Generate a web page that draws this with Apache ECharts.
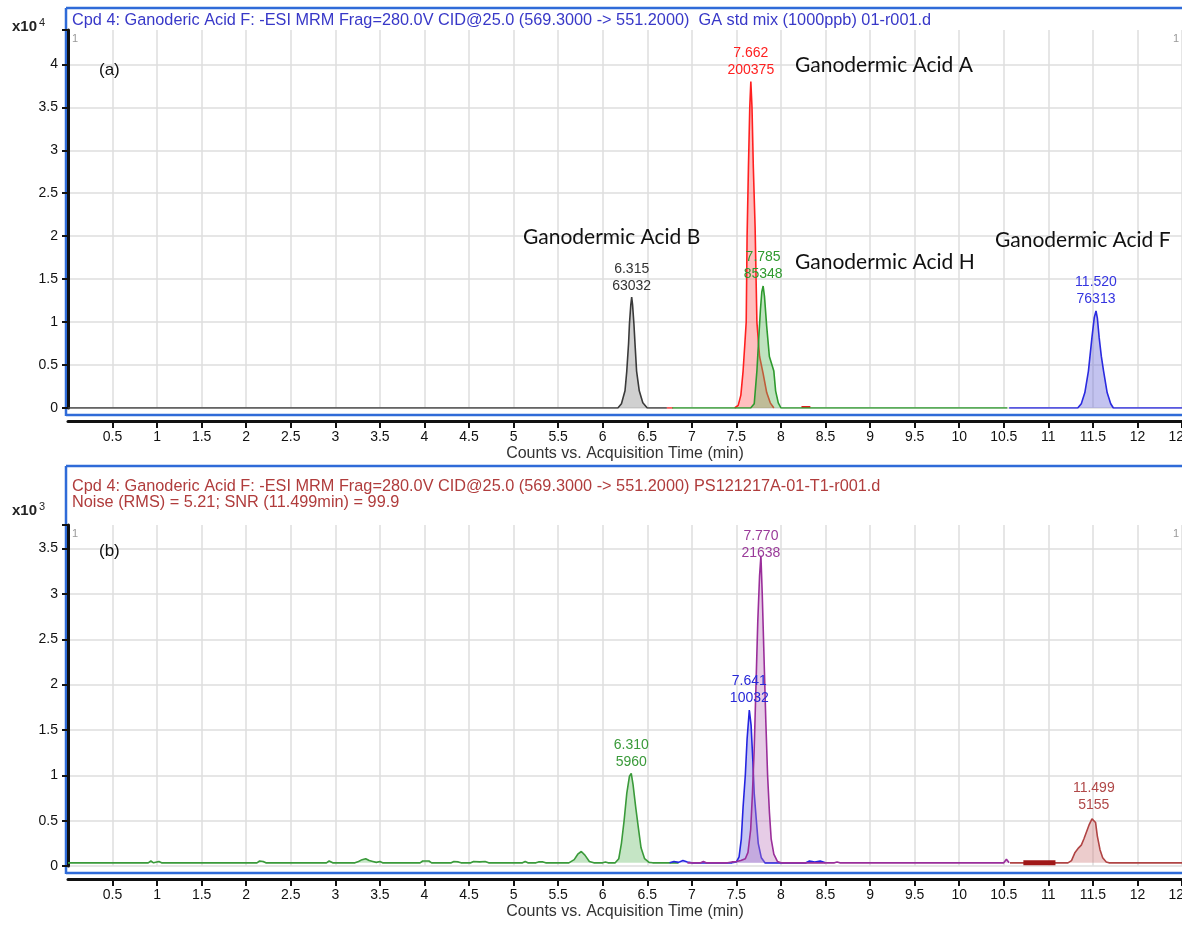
<!DOCTYPE html>
<html><head><meta charset="utf-8">
<script src="https://cdn.jsdelivr.net/npm/echarts@6/dist/echarts.min.js"></script>
<style>html,body{margin:0;padding:0;background:#fff}#c{width:1182px;height:925px}</style>
</head><body><div id="c"></div>
<script>
// ---------------- DATA ----------------
// Panel (a): GA std mix (1000 ppb), counts
const stdB = [[0,0],[6.17,0],[6.21,500],[6.25,2000],[6.27,4300],[6.29,7500],[6.30,9800],[6.315,12000],[6.325,12900],[6.335,12000],[6.35,9800],[6.365,7000],[6.38,4300],[6.41,2000],[6.45,600],[6.50,0],[6.72,0]];
const stdALead = [[6.72,0],[6.79,0]];
const stdA = [[7.48,0],[7.52,300],[7.55,1500],[7.575,4300],[7.595,7500],[7.61,10000],[7.62,20000],[7.635,28000],[7.65,35000],[7.662,38000],[7.675,35000],[7.69,28000],[7.71,21000],[7.73,10000],[7.76,6000],[7.80,4000],[7.84,1800],[7.88,600],[7.92,0]];
const stdABlip = [[8.23,120],[8.33,120]];
const stdH = [[6.78,0],[7.66,0],[7.70,500],[7.73,4300],[7.75,8000],[7.77,11500],[7.785,13500],[7.80,14200],[7.815,13000],[7.84,9500],[7.87,6000],[7.92,4300],[7.94,2000],[7.97,600],[8.0,0],[10.54,0]];
const stdF = [[10.56,0],[11.33,0],[11.37,500],[11.41,1800],[11.45,4300],[11.49,8250],[11.515,10500],[11.535,11300],[11.55,10500],[11.57,8250],[11.595,6000],[11.62,4300],[11.66,1800],[11.70,500],[11.73,0],[12.5,0]];
const stdPeakRT   = ['6.315','7.662','7.785','11.520'];
const stdPeakArea = ['63032','200375','85348','76313'];

// Panel (b): sample PS121217A-01-T1, counts
const smpBaseline = 35;
const smpB = [[0,35],[0.9,35],[0.93,55],[0.96,35],[1.02,50],[1.05,35],[2.12,35],[2.15,55],[2.19,50],[2.22,35],[2.48,35],[2.5,45],[2.52,35],[2.9,35],[2.93,55],[2.97,35],[3.22,35],[3.26,50],[3.3,70],[3.34,80],[3.38,60],[3.42,50],[3.46,40],[3.5,50],[3.53,35],[3.95,35],[3.98,55],[4.05,55],[4.08,35],[4.3,35],[4.33,50],[4.38,45],[4.41,35],[4.52,35],[4.55,50],[4.62,45],[4.68,50],[4.72,35],[5.1,35],[5.13,50],[5.16,35],[5.25,35],[5.28,45],[5.33,45],[5.36,35],[5.62,35],[5.68,70],[5.72,130],[5.76,160],[5.8,120],[5.85,50],[5.9,35],[6.0,35],[6.03,45],[6.06,35],[6.14,35],[6.18,80],[6.21,250],[6.24,500],[6.27,800],[6.30,990],[6.32,1020],[6.34,900],[6.37,650],[6.40,420],[6.43,200],[6.47,80],[6.52,40],[6.56,35],[6.85,35]];
const smpA = [[6.75,35],[6.8,50],[6.85,40],[6.9,60],[6.95,45],[7.0,35],[7.45,35],[7.5,45],[7.53,100],[7.555,300],[7.575,650],[7.60,1000],[7.62,1400],[7.645,1720],[7.665,1550],[7.685,1150],[7.70,800],[7.72,550],[7.745,250],[7.78,90],[7.82,35],[8.28,35],[8.32,55],[8.38,45],[8.44,55],[8.5,35]];
const smpH = [[6.95,35],[7.1,35],[7.13,50],[7.16,35],[7.4,35],[7.45,45],[7.5,50],[7.55,60],[7.6,80],[7.63,150],[7.66,400],[7.68,800],[7.70,1300],[7.72,2000],[7.74,2700],[7.76,3200],[7.775,3420],[7.79,3000],[7.81,2300],[7.83,1600],[7.85,1000],[7.87,600],[7.89,300],[7.92,130],[7.96,50],[8.0,35],[8.6,35],[8.63,45],[8.66,35],[10.5,35],[10.53,75],[10.56,35]];
const smpF = [[10.57,35],[11.22,35],[11.26,60],[11.30,150],[11.34,200],[11.37,230],[11.40,300],[11.43,380],[11.46,460],[11.49,520],[11.51,540],[11.53,480],[11.55,330],[11.58,180],[11.61,90],[11.65,45],[11.68,35],[12.5,35]];
const smpFThick = [[10.72,35],[11.08,35]];
const smpPeakRT   = ['6.310','7.641','7.770','11.499'];
const smpPeakArea = ['5960','10032','21638','5155'];

const titleA = 'Cpd 4: Ganoderic Acid F: -ESI MRM Frag=280.0V CID@25.0 (569.3000 -> 551.2000)  GA std mix (1000ppb) 01-r001.d';
const titleB1 = 'Cpd 4: Ganoderic Acid F: -ESI MRM Frag=280.0V CID@25.0 (569.3000 -> 551.2000) PS121217A-01-T1-r001.d';
const titleB2 = 'Noise (RMS) = 5.21; SNR (11.499min) = 99.9';
const xName = 'Counts vs. Acquisition Time (min)';

// ---------------- CHART ----------------
const FONT = 'Liberation Sans';
const chart = echarts.init(document.getElementById('c'), null, {renderer:'canvas'});

function peakOf(arr){ let b = arr[0]; arr.forEach(p => { if (p[1] > b[1]) b = p; }); return b; }

function mkSeries(data, idx, color, opts){
  opts = opts || {};
  const s = {
    type:'line', xAxisIndex:idx, yAxisIndex:idx, data:data, symbol:'none', silent:true,
    lineStyle:{color:color, width: opts.width || 1.6}, z: opts.z || 2
  };
  if (opts.fill) s.areaStyle = {color: opts.fill, opacity: 0.4, origin: opts.origin === undefined ? 'start' : opts.origin};
  if (opts.label) {
    s.markPoint = {
      symbol:'circle', symbolSize:0, silent:true,
      data:[{coord: peakOf(data)}],
      label:{show:true, position:'top', distance: opts.dist === undefined ? 3 : opts.dist, formatter: opts.label, color: opts.labelColor || color,
             fontFamily:FONT, fontSize:14, lineHeight:17}
    };
  }
  return s;
}

function xAx(idx){
  return {
    gridIndex:idx, type:'value', min:0, max:12.5, interval:0.5, offset:13,
    name: xName, nameLocation:'middle', nameGap:25,
    nameTextStyle:{color:'#333', fontFamily:FONT, fontSize:16},
    axisLine:{show:true, onZero:false, lineStyle:{color:'#111', width:3}},
    axisTick:{show:true, length:7, lineStyle:{color:'#111', width:2}},
    axisLabel:{showMinLabel:false, margin:9, color:'#111', fontFamily:FONT, fontSize:14,
               formatter: v => String(v)},
    splitLine:{show:true, showMinLine:false, lineStyle:{color:'#dedede', width:1.5}}
  };
}
function yAx(idx, max, div){
  return {
    gridIndex:idx, type:'value', min:0, max:max, interval:500*(div/1000),
    axisLine:{show:true, onZero:false, lineStyle:{color:'#111', width:3}},
    axisTick:{show:true, length:6, lineStyle:{color:'#111', width:2}},
    axisLabel:{margin:10, color:'#111', fontFamily:FONT, fontSize:14,
               formatter: v => (Math.round(v) % (500*(div/1000)) === 0 ? String(v/div) : '')},
    splitLine:{show:true, showMaxLine:false, lineStyle:{color:'#dedede', width:1.5}}
  };
}

const FRAME = '#2f6bd8';
function hline(x1,y,x2){ return {type:'line', shape:{x1:x1,y1:y,x2:x2,y2:y}, style:{stroke:FRAME, lineWidth:2.5}, z:0}; }
function vline(x,y1,y2){ return {type:'line', shape:{x1:x,y1:y1,x2:x,y2:y2}, style:{stroke:FRAME, lineWidth:2.5}, z:0}; }
function txt(x,y,t,color,size,extra){
  return Object.assign({type:'text', x:x, y:y, style:{text:t, fill:color, font: size+'px "'+FONT+'"', textVerticalAlign:'middle'}, z:10}, extra||{});
}
const ANN = '"Lato"';
function ann(x,y,t){ return {type:'text', x:x, y:y, style:{text:t, fill:'#111', font:'21px '+ANN, textVerticalAlign:'middle'}, z:10}; }
function exp10(y, p){
  return {type:'text', x:12, y:y, z:10, style:{
    rich:{b:{fontFamily:FONT,fontSize:15,fontWeight:'bold',fill:'#222'}, s:{fontFamily:FONT,fontSize:11,fill:'#222', verticalAlign:'top', padding:[0,0,8,2]}},
    text:'{b|x10}{s|'+p+'}', textVerticalAlign:'middle'}};
}

const option = {
  animation:false,
  backgroundColor:'#fff',
  grid:[{left:68, right:0, top:30, height:378, outerBoundsMode:'none'}, {left:68, right:0, top:525, height:341, outerBoundsMode:'none'}],
  xAxis:[xAx(0), xAx(1)],
  yAxis:[yAx(0, 44000, 10000), yAx(1, 3760, 1000)],
  series:[
    mkSeries(stdB, 0, '#3a3a3a', {fill:'#8a8a8a', label: stdPeakRT[0]+'\n'+stdPeakArea[0], labelColor:'#333'}),
    mkSeries(stdALead, 0, '#ff3030'),
    mkSeries(stdA, 0, '#ff2020', {fill:'#ff6060', label: stdPeakRT[1]+'\n'+stdPeakArea[1], labelColor:'#ff2020'}),
    mkSeries(stdABlip, 0, '#e02020', {width:2}),
    mkSeries(stdH, 0, '#2e9a2e', {fill:'#5fb85f', label: stdPeakRT[2]+'\n'+stdPeakArea[2], labelColor:'#2e9a2e', z:3}),
    mkSeries(stdF, 0, '#2a2ae0', {fill:'#6a6ad8', label: stdPeakRT[3]+'\n'+stdPeakArea[3], labelColor:'#3434e0'}),

    mkSeries(smpB, 1, '#3a9a3a', {fill:'#6fbf6f', origin:smpBaseline, label: smpPeakRT[0]+'\n'+smpPeakArea[0], labelColor:'#3a9a3a'}),
    mkSeries(smpA, 1, '#2424e0', {fill:'#7070e0', origin:smpBaseline, label: smpPeakRT[1]+'\n'+smpPeakArea[1], labelColor:'#2828d8'}),
    mkSeries(smpH, 1, '#9a2e9a', {fill:'#c080c0', origin:smpBaseline, dist:-6, label: smpPeakRT[2]+'\n'+smpPeakArea[2], labelColor:'#9a3a9a', z:3}),
    mkSeries(smpF, 1, '#b04444', {fill:'#d08080', origin:smpBaseline, label: smpPeakRT[3]+'\n'+smpPeakArea[3], labelColor:'#b04848'}),
    mkSeries(smpFThick, 1, '#a01818', {width:5, z:4})
  ],
  graphic:[
    hline(66,8,1182), vline(66,8,416), hline(66,415,1182),
    hline(66,466,1182), vline(66,466,874), hline(66,873,1182),
    txt(72,21,titleA,'#3838c8',16.3),
    txt(72,487,titleB1,'#b03c3c',16.3),
    txt(72,503,titleB2,'#b03c3c',16.3),
    exp10(27,'4'), exp10(511,'3'),
    txt(72,39,'1','#999',11), txt(1173,39,'1','#999',11),
    txt(72,534,'1','#999',11), txt(1173,534,'1','#999',11),
    txt(99,70,'(a)','#111',17), txt(99,551,'(b)','#111',17),
    ann(795,65,'Ganodermic Acid A'),
    ann(523,237,'Ganodermic Acid B'),
    ann(795,262,'Ganodermic Acid H'),
    ann(995,240,'Ganodermic Acid F')
  ]
};
chart.setOption(option);
</script></body></html>
